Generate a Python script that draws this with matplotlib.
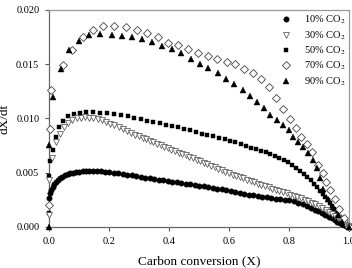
import matplotlib
matplotlib.use("Agg")
import matplotlib.pyplot as plt
from matplotlib.ticker import FormatStrFormatter

plt.rcParams['font.family'] = ['Liberation Serif', 'DejaVu Serif']
plt.rcParams['mathtext.fontset'] = 'stix'

labels = ["10% CO$_2$", "30% CO$_2$", "50% CO$_2$", "70% CO$_2$", "90% CO$_2$"]

x10 = [0.000, 0.004, 0.008, 0.013, 0.018, 0.024, 0.030, 0.037, 0.045, 0.053, 0.062, 0.071,
       0.081, 0.091, 0.101, 0.112, 0.123, 0.135, 0.147, 0.160, 0.173, 0.186, 0.200, 0.215,
       0.230, 0.245, 0.260, 0.275, 0.290, 0.305, 0.320, 0.335, 0.350, 0.365, 0.380, 0.395,
       0.410, 0.425, 0.440, 0.455, 0.470, 0.485, 0.500, 0.515, 0.530, 0.545, 0.560, 0.575,
       0.590, 0.605, 0.620, 0.635, 0.650, 0.665, 0.680, 0.695, 0.710, 0.725, 0.740, 0.755,
       0.770, 0.785, 0.800, 0.815, 0.830, 0.845, 0.860, 0.873, 0.886, 0.898, 0.910, 0.921,
       0.932, 0.942, 0.952, 0.961, 0.969, 0.977, 0.984, 0.990, 0.995, 1.000]
y10 = [2.70, 3.10, 3.40, 3.70, 3.95, 4.15, 4.35, 4.50, 4.65, 4.77, 4.87, 4.95,
       5.02, 5.07, 5.11, 5.14, 5.16, 5.17, 5.17, 5.16, 5.14, 5.11, 5.07, 5.02,
       4.96, 4.90, 4.83, 4.76, 4.69, 4.62, 4.55, 4.48, 4.41, 4.35, 4.29, 4.23,
       4.17, 4.11, 4.05, 3.99, 3.93, 3.87, 3.81, 3.74, 3.67, 3.60, 3.53, 3.46,
       3.38, 3.30, 3.22, 3.14, 3.06, 2.98, 2.91, 2.84, 2.78, 2.72, 2.66, 2.61,
       2.56, 2.51, 2.45, 2.37, 2.25, 2.10, 1.93, 1.77, 1.60, 1.43, 1.26, 1.10,
       0.94, 0.79, 0.64, 0.50, 0.38, 0.26, 0.16, 0.08, 0.03, 0.00]

x30 = [0.000, 0.000, 0.009, 0.023, 0.036, 0.050, 0.064, 0.078, 0.092, 0.106, 0.120, 0.134,
       0.148, 0.162, 0.176, 0.190, 0.204, 0.218, 0.232, 0.246, 0.260, 0.274, 0.288, 0.300,
       0.312, 0.324, 0.336, 0.348, 0.360, 0.372, 0.384, 0.396, 0.408, 0.420, 0.432, 0.444,
       0.456, 0.468, 0.480, 0.492, 0.504, 0.516, 0.528, 0.540, 0.552, 0.564, 0.576, 0.588,
       0.600, 0.612, 0.624, 0.636, 0.648, 0.660, 0.672, 0.684, 0.696, 0.708, 0.720, 0.732,
       0.744, 0.756, 0.768, 0.780, 0.792, 0.804, 0.816, 0.828, 0.840, 0.852, 0.864, 0.876,
       0.888, 0.900, 0.911, 0.922, 0.933, 0.943, 0.953, 0.962, 0.970, 0.978, 0.985, 0.991,
       0.996, 1.000]
y30 = [1.10, 4.30, 6.40, 7.80, 8.60, 9.20, 9.60, 9.85, 10.00, 10.08, 10.10, 10.08,
       10.02, 9.93, 9.82, 9.68, 9.53, 9.37, 9.20, 9.03, 8.86, 8.69, 8.52, 8.38,
       8.24, 8.10, 7.96, 7.82, 7.68, 7.55, 7.41, 7.27, 7.14, 7.00, 6.86, 6.73,
       6.59, 6.45, 6.32, 6.18, 6.05, 5.91, 5.77, 5.64, 5.50, 5.36, 5.23, 5.09,
       4.95, 4.83, 4.71, 4.59, 4.47, 4.35, 4.23, 4.11, 3.99, 3.87, 3.76, 3.65,
       3.54, 3.43, 3.32, 3.21, 3.10, 2.99, 2.88, 2.77, 2.64, 2.51, 2.37, 2.23,
       2.08, 1.92, 1.76, 1.59, 1.41, 1.23, 1.05, 0.87, 0.70, 0.52, 0.36, 0.21,
       0.09, 0.00]

x50 = [0.000, 0.000, 0.005, 0.012, 0.022, 0.034, 0.048, 0.064, 0.082, 0.102, 0.124, 0.147,
       0.170, 0.193, 0.216, 0.239, 0.262, 0.284, 0.306, 0.327, 0.348, 0.369, 0.390, 0.410,
       0.430, 0.450, 0.470, 0.490, 0.509, 0.528, 0.547, 0.566, 0.585, 0.603, 0.621, 0.639,
       0.656, 0.673, 0.690, 0.706, 0.722, 0.738, 0.753, 0.768, 0.783, 0.797, 0.811, 0.824,
       0.837, 0.849, 0.861, 0.872, 0.883, 0.893, 0.903, 0.912, 0.921, 0.929, 0.937, 0.944,
       0.951, 0.957, 0.963, 0.969, 0.974, 0.979, 0.984, 0.988, 0.992, 0.996, 1.000]
y50 = [1.30, 4.70, 6.10, 7.10, 8.30, 9.20, 9.80, 10.20, 10.45, 10.55, 10.60, 10.60,
       10.55, 10.50, 10.42, 10.32, 10.20, 10.05, 9.92, 9.78, 9.66, 9.55, 9.42, 9.30,
       9.18, 9.05, 8.90, 8.75, 8.60, 8.47, 8.35, 8.22, 8.08, 7.94, 7.79, 7.64,
       7.48, 7.32, 7.17, 7.02, 6.87, 6.71, 6.55, 6.38, 6.18, 5.96, 5.72, 5.46,
       5.18, 4.90, 4.60, 4.29, 3.97, 3.66, 3.34, 3.04, 2.75, 2.46, 2.17, 1.90,
       1.64, 1.40, 1.16, 0.93, 0.73, 0.54, 0.37, 0.23, 0.12, 0.05, 0.00]

x70 = [0.001, 0.002, 0.006, 0.048, 0.078, 0.114, 0.148, 0.179, 0.217, 0.256, 0.292, 0.326,
       0.363, 0.398, 0.429, 0.464, 0.498, 0.529, 0.559, 0.592, 0.621, 0.651, 0.679, 0.707,
       0.732, 0.757, 0.781, 0.804, 0.823, 0.840, 0.859, 0.876, 0.898, 0.912, 0.923, 0.937,
       0.952, 0.967, 0.982, 1.000]
y70 = [2.05, 9.05, 12.60, 14.90, 16.30, 17.55, 18.15, 18.50, 18.55, 18.45, 18.20, 17.90,
       17.55, 17.00, 16.80, 16.45, 16.07, 15.80, 15.46, 15.24, 15.00, 14.57, 14.23, 13.65,
       12.88, 11.92, 10.88, 9.93, 9.10, 8.30, 7.68, 6.92, 5.72, 4.95, 4.18, 3.41,
       2.55, 1.70, 0.85, 0.00]

x90 = [0.000, 0.000, 0.014, 0.040, 0.068, 0.100, 0.133, 0.170, 0.209, 0.243, 0.276, 0.311,
       0.343, 0.378, 0.410, 0.439, 0.472, 0.503, 0.531, 0.562, 0.590, 0.618, 0.646, 0.670,
       0.694, 0.717, 0.738, 0.759, 0.779, 0.799, 0.814, 0.831, 0.848, 0.864, 0.881, 0.892,
       0.903, 0.914, 0.930, 0.946, 0.962, 0.978, 1.000]
y90 = [0.00, 7.56, 12.00, 14.60, 16.30, 17.10, 17.70, 17.80, 17.70, 17.60, 17.50, 17.35,
       17.05, 16.65, 16.40, 16.00, 15.45, 15.05, 14.63, 14.17, 13.67, 13.16, 12.60, 12.05,
       11.52, 10.94, 10.35, 9.84, 9.40, 8.94, 8.33, 7.86, 7.40, 6.80, 6.18, 5.40,
       4.50, 3.50, 2.60, 1.80, 1.10, 0.50, 0.00]

xticks = [0.0, 0.2, 0.4, 0.6, 0.8, 1.0]
yticks = [0.000, 0.005, 0.010, 0.015, 0.020]

fig = plt.figure(figsize=(3.52, 2.68), dpi=100)
ax = fig.add_axes([0.1392, 0.153, 0.8523, 0.8097])

sc = 1e-3
ax.plot(x10, [v * sc for v in y10], ls='none', marker='o', ms=3.9, mfc='black', mec='black',
        mew=0.3, clip_on=False, label=labels[0], zorder=3)
ax.plot(x30, [v * sc for v in y30], ls='none', marker='v', ms=4.0, mfc='white', mec='#555555',
        mew=0.55, clip_on=False, label=labels[1], zorder=4)
ax.plot(x50, [v * sc for v in y50], ls='none', marker='s', ms=3.5, mfc='black', mec='black',
        mew=0.3, clip_on=False, label=labels[2], zorder=3)
ax.plot(x70, [v * sc for v in y70], ls='none', marker='D', ms=3.8, mfc='white', mec='#444444',
        mew=0.6, clip_on=False, label=labels[3], zorder=4)
ax.plot(x90, [v * sc for v in y90], ls='none', marker='^', ms=4.3, mfc='black', mec='black',
        mew=0.3, clip_on=False, label=labels[4], zorder=5)

ax.set_xlim(0, 1.0)
ax.set_ylim(0, 0.020)
ax.set_xticks(xticks)
ax.set_yticks(yticks)
ax.xaxis.set_major_formatter(FormatStrFormatter('%.1f'))
ax.yaxis.set_major_formatter(FormatStrFormatter('%.3f'))
ax.tick_params(direction='out', length=3, width=0.8, color='#555555', labelsize=7.5, pad=4)
for s in ax.spines.values():
    s.set_color('#999999')
    s.set_linewidth(0.9)
ax.spines['left'].set_color('#666666')
ax.spines['bottom'].set_color('#666666')

ax.set_xlabel('Carbon conversion (X)', fontsize=9.5, labelpad=7)
ax.set_ylabel('dX/dt', fontsize=9.5, labelpad=4)

leg = ax.legend(loc='upper left', bbox_to_anchor=(0.773, 0.982), frameon=False, fontsize=7.5,
                handlelength=1.0, handletextpad=1.2, labelspacing=0.27, borderpad=0,
                borderaxespad=0)

fig.savefig('out.png', dpi=100)
